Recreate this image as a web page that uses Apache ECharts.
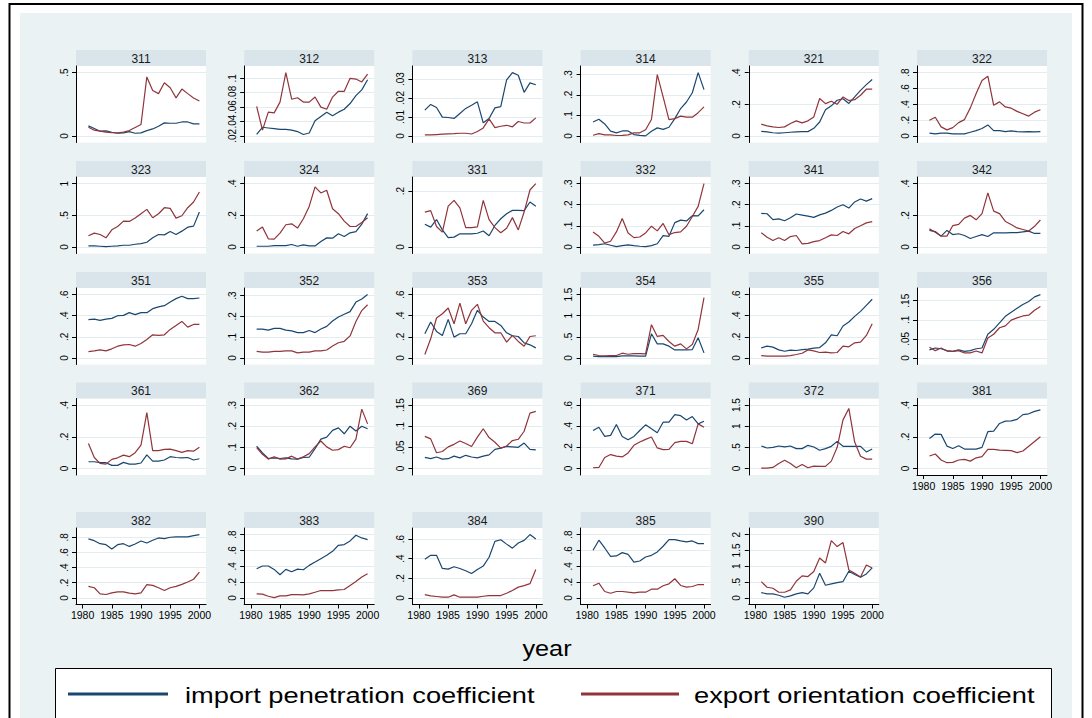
<!DOCTYPE html>
<html><head><meta charset="utf-8">
<script src="https://cdn.jsdelivr.net/npm/echarts@6.0.0/dist/echarts.min.js"></script>
<style>html,body{margin:0;padding:0;background:#fff}#c{width:1092px;height:718px}</style>
</head><body><div id="c"></div>
<script>
// ---------------- data ----------------
const years = [1981,1982,1983,1984,1985,1986,1987,1988,1989,1990,1991,1992,1993,1994,1995,1996,1997,1998,1999,2000];
const xTicks = [1980,1985,1990,1995,2000];
const industries = ['311','312','313','314','321','322','323','324','331','332','341','342','351','352','353','354','355','356','361','362','369','371','372','381','382','383','384','385','390'];
const seriesNames = ['import penetration coefficient','export orientation coefficient'];

const imp_311 = [0.079,0.058,0.037,0.04,0.029,0.021,0.024,0.034,0.021,0.024,0.042,0.055,0.076,0.103,0.1,0.1,0.11,0.11,0.095,0.095];
const exp_311 = [0.068,0.045,0.037,0.03,0.026,0.024,0.03,0.042,0.066,0.09,0.466,0.358,0.334,0.42,0.38,0.30,0.37,0.334,0.30,0.276];
const ticks_311 = [0,0.5];

const imp_312 = [0.022,0.032,0.031,0.030,0.029,0.029,0.028,0.026,0.022,0.024,0.041,0.047,0.053,0.048,0.053,0.057,0.065,0.076,0.084,0.098];
const exp_312 = [0.061,0.028,0.053,0.052,0.067,0.108,0.071,0.073,0.067,0.067,0.074,0.060,0.057,0.074,0.082,0.082,0.100,0.099,0.095,0.106];
const ticks_312 = [0.02,0.04,0.06,0.08,0.1];

const imp_313 = [0.0136,0.0166,0.015,0.0099,0.0097,0.0092,0.0118,0.0145,0.0162,0.018,0.0069,0.0092,0.0148,0.0154,0.0295,0.0334,0.032,0.023,0.028,0.027];
const exp_313 = [0.0005,0.0005,0.0007,0.0009,0.0011,0.0012,0.0014,0.0014,0.001,0.0023,0.0042,0.009,0.0044,0.0051,0.0056,0.0048,0.0076,0.0068,0.0068,0.0095];
const ticks_313 = [0,0.01,0.02,0.03];

const imp_314 = [0.068,0.081,0.058,0.023,0.015,0.024,0.024,0.0065,0.003,0.0,0.023,0.039,0.032,0.042,0.084,0.133,0.165,0.21,0.308,0.225];
const exp_314 = [0.003,0.011,0.005,0.005,0.002,0.003,0.005,0.015,0.015,0.03,0.08,0.298,0.19,0.079,0.084,0.096,0.091,0.091,0.113,0.141];
const ticks_314 = [0,0.1,0.2,0.3];

const imp_321 = [0.029,0.025,0.02,0.017,0.02,0.023,0.026,0.027,0.027,0.048,0.088,0.165,0.19,0.225,0.235,0.205,0.246,0.288,0.324,0.356];
const exp_321 = [0.074,0.063,0.057,0.053,0.057,0.078,0.095,0.082,0.095,0.12,0.236,0.204,0.219,0.2,0.246,0.223,0.229,0.257,0.295,0.295];
const ticks_321 = [0,0.2,0.4];

const imp_322 = [0.034,0.025,0.034,0.034,0.025,0.025,0.025,0.046,0.067,0.093,0.139,0.067,0.067,0.055,0.063,0.055,0.05,0.055,0.05,0.055];
const exp_322 = [0.198,0.236,0.114,0.076,0.105,0.168,0.206,0.354,0.535,0.70,0.754,0.387,0.43,0.366,0.35,0.31,0.28,0.25,0.30,0.33];
const ticks_322 = [0,0.2,0.4,0.6,0.8];

const imp_323 = [0.016,0.016,0.01,0.004,0.01,0.016,0.026,0.026,0.042,0.053,0.074,0.143,0.196,0.19,0.243,0.196,0.249,0.312,0.328,0.55];
const exp_323 = [0.175,0.217,0.196,0.143,0.27,0.323,0.407,0.402,0.455,0.524,0.593,0.46,0.524,0.619,0.608,0.455,0.492,0.619,0.709,0.868];
const ticks_323 = [0,0.5,1];

const imp_324 = [0.004,0.004,0.004,0.008,0.008,0.008,0.015,0.004,0.013,0.006,0.006,0.034,0.057,0.055,0.083,0.066,0.089,0.097,0.144,0.21];
const exp_324 = [0.10,0.125,0.051,0.049,0.087,0.14,0.146,0.119,0.178,0.256,0.379,0.341,0.358,0.241,0.21,0.163,0.129,0.129,0.154,0.184];
const ticks_324 = [0,0.2,0.4];

const imp_331 = [0.081,0.071,0.098,0.061,0.033,0.035,0.047,0.047,0.047,0.049,0.057,0.04,0.077,0.101,0.119,0.131,0.131,0.13,0.161,0.146];
const exp_331 = [0.125,0.13,0.073,0.053,0.146,0.167,0.14,0.069,0.069,0.072,0.167,0.098,0.069,0.051,0.067,0.105,0.061,0.125,0.204,0.227];
const ticks_331 = [0,0.2];

const imp_332 = [0.008,0.011,0.015,0.008,0.001,0.006,0.01,0.006,0.003,0.001,0.006,0.015,0.053,0.05,0.115,0.127,0.123,0.148,0.147,0.176];
const exp_332 = [0.071,0.05,0.018,0.027,0.071,0.135,0.066,0.044,0.047,0.066,0.098,0.076,0.111,0.058,0.068,0.071,0.098,0.144,0.192,0.30];
const ticks_332 = [0,0.1,0.2,0.3];

const imp_341 = [0.159,0.157,0.129,0.133,0.124,0.138,0.156,0.151,0.146,0.14,0.152,0.16,0.173,0.189,0.2,0.184,0.213,0.227,0.217,0.229];
const exp_341 = [0.067,0.046,0.03,0.043,0.03,0.049,0.054,0.014,0.017,0.025,0.03,0.043,0.057,0.054,0.073,0.062,0.087,0.1,0.114,0.12];
const ticks_341 = [0,0.1,0.2,0.3];

const imp_342 = [0.104,0.097,0.068,0.104,0.078,0.083,0.072,0.053,0.066,0.078,0.066,0.089,0.089,0.089,0.09,0.09,0.095,0.10,0.085,0.085];
const exp_342 = [0.114,0.093,0.068,0.068,0.135,0.142,0.182,0.199,0.171,0.21,0.341,0.226,0.21,0.161,0.142,0.12,0.11,0.10,0.13,0.17];
const ticks_342 = [0,0.2,0.4];

const imp_351 = [0.362,0.368,0.356,0.368,0.375,0.40,0.403,0.429,0.41,0.429,0.429,0.467,0.483,0.495,0.53,0.562,0.584,0.562,0.562,0.568];
const exp_351 = [0.06,0.067,0.076,0.067,0.086,0.111,0.124,0.127,0.111,0.137,0.175,0.219,0.213,0.219,0.27,0.308,0.346,0.292,0.317,0.317];
const ticks_351 = [0,0.2,0.4,0.6];

const imp_352 = [0.139,0.139,0.134,0.142,0.142,0.134,0.13,0.122,0.122,0.132,0.122,0.139,0.152,0.178,0.197,0.21,0.223,0.269,0.284,0.305];
const exp_352 = [0.031,0.028,0.028,0.031,0.031,0.034,0.034,0.024,0.028,0.028,0.034,0.034,0.038,0.057,0.073,0.08,0.106,0.175,0.228,0.256];
const ticks_352 = [0,0.1,0.2,0.3];

const imp_353 = [0.229,0.34,0.251,0.213,0.365,0.197,0.229,0.229,0.324,0.451,0.387,0.346,0.346,0.308,0.238,0.21,0.203,0.143,0.124,0.095];
const exp_353 = [0.032,0.181,0.378,0.419,0.473,0.324,0.52,0.324,0.451,0.508,0.349,0.286,0.238,0.238,0.149,0.213,0.156,0.111,0.203,0.21];
const ticks_353 = [0,0.2,0.4,0.6];

const imp_354 = [0.04,0.032,0.032,0.032,0.032,0.048,0.048,0.048,0.04,0.04,0.571,0.333,0.333,0.278,0.19,0.19,0.19,0.198,0.476,0.119];
const exp_354 = [0.087,0.056,0.048,0.056,0.056,0.111,0.087,0.103,0.103,0.095,0.786,0.508,0.532,0.389,0.278,0.333,0.214,0.317,0.675,1.43];
const ticks_354 = [0,0.5,1,1.5];

const imp_355 = [0.095,0.111,0.102,0.076,0.063,0.073,0.07,0.079,0.083,0.092,0.098,0.143,0.219,0.21,0.302,0.34,0.394,0.441,0.498,0.556];
const exp_355 = [0.022,0.016,0.016,0.016,0.016,0.022,0.032,0.044,0.076,0.067,0.051,0.054,0.048,0.051,0.111,0.105,0.143,0.149,0.213,0.324];
const ticks_355 = [0,0.2,0.4,0.6];

const imp_356 = [0.021,0.026,0.024,0.019,0.017,0.021,0.017,0.019,0.024,0.026,0.062,0.075,0.092,0.109,0.12,0.13,0.14,0.148,0.16,0.166];
const exp_356 = [0.028,0.019,0.026,0.018,0.017,0.019,0.013,0.013,0.018,0.013,0.052,0.062,0.079,0.084,0.099,0.105,0.11,0.112,0.125,0.135];
const ticks_356 = [0,0.05,0.1,0.15];

const imp_361 = [0.042,0.042,0.036,0.036,0.019,0.019,0.038,0.027,0.027,0.034,0.086,0.046,0.046,0.053,0.074,0.069,0.067,0.069,0.053,0.061];
const exp_361 = [0.158,0.069,0.032,0.027,0.057,0.067,0.084,0.074,0.099,0.147,0.352,0.112,0.112,0.12,0.122,0.112,0.101,0.112,0.109,0.133];
const ticks_361 = [0,0.2,0.4];

const imp_362 = [0.106,0.073,0.047,0.05,0.047,0.05,0.045,0.044,0.052,0.053,0.094,0.139,0.148,0.18,0.192,0.164,0.2,0.177,0.2,0.188];
const exp_362 = [0.098,0.067,0.044,0.055,0.044,0.045,0.058,0.044,0.055,0.07,0.102,0.13,0.102,0.086,0.089,0.105,0.098,0.139,0.281,0.211];
const ticks_362 = [0,0.1,0.2,0.3];

const imp_369 = [0.026,0.023,0.027,0.022,0.023,0.029,0.025,0.031,0.027,0.025,0.029,0.032,0.045,0.048,0.052,0.051,0.05,0.06,0.045,0.044];
const exp_369 = [0.076,0.07,0.037,0.04,0.051,0.057,0.065,0.059,0.052,0.074,0.094,0.073,0.062,0.048,0.053,0.066,0.069,0.088,0.131,0.135];
const ticks_369 = [0,0.05,0.1,0.15];

const imp_371 = [0.359,0.39,0.303,0.313,0.416,0.303,0.272,0.303,0.359,0.413,0.375,0.338,0.438,0.438,0.509,0.5,0.459,0.491,0.422,0.447];
const exp_371 = [0.006,0.009,0.103,0.131,0.116,0.109,0.147,0.219,0.25,0.275,0.297,0.194,0.178,0.181,0.244,0.256,0.256,0.234,0.422,0.39];
const ticks_371 = [0,0.2,0.4,0.6];

const imp_372 = [0.531,0.484,0.5,0.531,0.508,0.531,0.469,0.469,0.547,0.508,0.43,0.469,0.523,0.641,0.523,0.523,0.523,0.523,0.39,0.461];
const exp_372 = [0.008,0.008,0.023,0.117,0.195,0.117,0.016,0.094,0.016,0.055,0.047,0.047,0.172,0.5,1.15,1.42,0.625,0.289,0.219,0.219];
const ticks_372 = [0,0.5,1,1.5];

const imp_381 = [0.189,0.217,0.215,0.141,0.126,0.143,0.122,0.122,0.122,0.133,0.232,0.236,0.284,0.299,0.30,0.31,0.34,0.345,0.36,0.37];
const exp_381 = [0.078,0.091,0.053,0.036,0.038,0.053,0.057,0.046,0.067,0.074,0.12,0.12,0.116,0.114,0.112,0.10,0.11,0.14,0.17,0.2];
const ticks_381 = [0,0.2,0.4];

const imp_382 = [0.778,0.755,0.715,0.702,0.644,0.702,0.715,0.679,0.711,0.751,0.724,0.76,0.791,0.782,0.8,0.804,0.804,0.804,0.822,0.835];
const exp_382 = [0.152,0.134,0.054,0.045,0.067,0.08,0.08,0.063,0.054,0.067,0.174,0.165,0.134,0.098,0.134,0.152,0.179,0.21,0.246,0.34];
const ticks_382 = [0,0.2,0.4,0.6,0.8];

const imp_383 = [0.369,0.403,0.403,0.36,0.292,0.36,0.331,0.364,0.356,0.411,0.453,0.496,0.538,0.589,0.665,0.674,0.72,0.792,0.758,0.737];
const exp_383 = [0.051,0.047,0.021,0.004,0.025,0.025,0.042,0.042,0.038,0.051,0.072,0.093,0.093,0.093,0.102,0.106,0.157,0.208,0.263,0.305];
const ticks_383 = [0,0.2,0.4,0.6,0.8];

const imp_384 = [0.393,0.434,0.434,0.3,0.293,0.317,0.3,0.276,0.248,0.29,0.324,0.414,0.576,0.593,0.548,0.507,0.559,0.586,0.645,0.6];
const exp_384 = [0.034,0.021,0.014,0.007,0.007,0.031,0.007,0.007,0.007,0.007,0.017,0.024,0.024,0.024,0.048,0.076,0.11,0.125,0.145,0.29];
const ticks_384 = [0,0.2,0.4,0.6];

const imp_385 = [0.602,0.729,0.631,0.525,0.53,0.572,0.551,0.453,0.466,0.517,0.538,0.581,0.653,0.737,0.737,0.72,0.708,0.72,0.686,0.686];
const exp_385 = [0.153,0.186,0.081,0.059,0.081,0.081,0.072,0.064,0.072,0.072,0.11,0.11,0.153,0.178,0.242,0.157,0.136,0.144,0.169,0.169];
const ticks_385 = [0,0.2,0.4,0.6,0.8];

const imp_390 = [0.168,0.126,0.126,0.084,0.021,0.063,0.126,0.168,0.126,0.316,0.779,0.4,0.442,0.484,0.516,0.842,0.737,0.653,0.758,0.947];
const exp_390 = [0.516,0.337,0.305,0.179,0.179,0.253,0.526,0.695,0.674,0.832,1.263,1.105,1.81,1.621,1.747,0.884,0.779,0.663,1.042,0.947];
const ticks_390 = [0,0.5,1,1.5,2];

const impList = [imp_311,imp_312,imp_313,imp_314,imp_321,imp_322,imp_323,imp_324,imp_331,imp_332,imp_341,imp_342,imp_351,imp_352,imp_353,imp_354,imp_355,imp_356,imp_361,imp_362,imp_369,imp_371,imp_372,imp_381,imp_382,imp_383,imp_384,imp_385,imp_390];
const expList = [exp_311,exp_312,exp_313,exp_314,exp_321,exp_322,exp_323,exp_324,exp_331,exp_332,exp_341,exp_342,exp_351,exp_352,exp_353,exp_354,exp_355,exp_356,exp_361,exp_362,exp_369,exp_371,exp_372,exp_381,exp_382,exp_383,exp_384,exp_385,exp_390];
const tickList = [ticks_311,ticks_312,ticks_313,ticks_314,ticks_321,ticks_322,ticks_323,ticks_324,ticks_331,ticks_332,ticks_341,ticks_342,ticks_351,ticks_352,ticks_353,ticks_354,ticks_355,ticks_356,ticks_361,ticks_362,ticks_369,ticks_371,ticks_372,ticks_381,ticks_382,ticks_383,ticks_384,ticks_385,ticks_390];

// ---------------- layout / style ----------------
const FONT = '"Liberation Sans", Arial, sans-serif';
const BLUE = '#1a476f', RED = '#90353b';
const COL_LEFT = [76, 244.2, 412.4, 580.6, 748.8, 917];
const ROW_TOP = [50, 161, 272, 382.5, 512];
const HEAD_H = 16, PLOT_H = 76.5, PLOT_W = 130, PAD = 6.6;

function fmtY(v){
  if (Math.abs(v) < 1e-12) return '0';
  return String(+v.toFixed(4)).replace(/^0\./, '.');
}

const grids = [], xAxes = [], yAxes = [], series = [], graphics = [];

graphics.push({type:'rect', z:-20, silent:true, shape:{x:9.5, y:4, width:1073, height:760}, style:{fill:'#fff', stroke:'#000', lineWidth:2}});
graphics.push({type:'rect', z:-19, silent:true, shape:{x:20, y:13, width:1052, height:760}, style:{fill:'#eaf2f3'}});

industries.forEach((id, i) => {
  const row = Math.floor(i / 6), col = i % 6;
  const left = COL_LEFT[col], top = ROW_TOP[row];
  const isBottom = row === 4 || (row === 3 && col === 5);
  const imp = impList[i], exp = expList[i], ticks = tickList[i];
  const lo = Math.min(ticks[0], ...imp, ...exp);
  const hi = Math.max(ticks[ticks.length - 1], ...imp, ...exp);
  const m = (hi - lo) * PAD / (PLOT_H - 2 * PAD);
  const xm = 20 * PAD / (PLOT_W - 2 * PAD);

  grids.push({left: left, top: top + HEAD_H, width: PLOT_W, height: PLOT_H, show: true,
    backgroundColor: '#fff', borderWidth: 0});

  graphics.push({type:'rect', silent:true, shape:{x:left, y:top, width:PLOT_W, height:HEAD_H}, style:{fill:'#d9e5eb'}});
  graphics.push({type:'text', silent:true, x:left + PLOT_W/2, y:top + HEAD_H/2 + 0.5,
    style:{text:id, font:'12px ' + FONT, fill:'#1a1a1a', align:'center', verticalAlign:'middle'}});

  xAxes.push({
    gridIndex: i, type: 'value', min: 1980 - xm, max: 2000 + xm,
    axisLine: {show: isBottom, onZero: false, lineStyle: {color: '#000', width: 1}},
    axisTick: {show: isBottom, customValues: xTicks, length: 4, lineStyle: {color: '#000'}},
    axisLabel: {show: isBottom, customValues: xTicks, fontSize: 10.5, fontFamily: FONT, color: '#000', margin: 5,
      showMinLabel: true, showMaxLabel: true, formatter: v => String(v)},
    splitLine: {show: false}
  });
  yAxes.push({
    gridIndex: i, type: 'value', min: lo - m, max: hi + m,
    axisLine: {show: true, onZero: false, lineStyle: {color: '#000', width: 1}},
    axisTick: {show: true, customValues: ticks, length: 4, lineStyle: {color: '#000'}},
    axisLabel: {show: true, customValues: ticks, rotate: 90, margin: 7, fontSize: 10, fontFamily: FONT,
      color: '#000', showMinLabel: true, showMaxLabel: true, hideOverlap: false, formatter: fmtY},
    splitLine: {show: true, lineStyle: {color: '#e3ecee', width: 1}}
  });
  series.push({name: seriesNames[0], type: 'line', xAxisIndex: i, yAxisIndex: i, showSymbol: false, symbol: 'none',
    silent: true, color: BLUE, lineStyle: {color: BLUE, width: 1.2},
    data: years.map((y, k) => [y, imp[k]])});
  series.push({name: seriesNames[1], type: 'line', xAxisIndex: i, yAxisIndex: i, showSymbol: false, symbol: 'none',
    silent: true, color: RED, lineStyle: {color: RED, width: 1.2},
    data: years.map((y, k) => [y, exp[k]])});
});

// x axis title
graphics.push({type:'text', silent:true, x:547, y:649, scaleX:1.15, originX:0, originY:0,
  style:{text:'year', font:'22px ' + FONT, fill:'#000', align:'center', verticalAlign:'middle'}});
// legend
graphics.push({type:'rect', silent:true, shape:{x:55.5, y:668.5, width:996, height:90}, style:{fill:'#fff', stroke:'#000', lineWidth:1}});
graphics.push({type:'line', silent:true, shape:{x1:68, y1:694, x2:168, y2:694}, style:{stroke:BLUE, lineWidth:3}});
graphics.push({type:'line', silent:true, shape:{x1:581, y1:694, x2:679, y2:694}, style:{stroke:RED, lineWidth:3}});
graphics.push({type:'text', silent:true, x:185, y:695, scaleX:1.24, originX:0, originY:0,
  style:{text:seriesNames[0], font:'22px ' + FONT, fill:'#000', align:'left', verticalAlign:'middle'}});
graphics.push({type:'text', silent:true, x:694, y:695, scaleX:1.24, originX:0, originY:0,
  style:{text:seriesNames[1], font:'22px ' + FONT, fill:'#000', align:'left', verticalAlign:'middle'}});

const chart = echarts.init(document.getElementById('c'), null, {renderer: 'svg'});
chart.setOption({
  animation: false,
  backgroundColor: '#fff',
  grid: grids, xAxis: xAxes, yAxis: yAxes, series: series,
  graphic: {elements: graphics}
});
</script></body></html>
